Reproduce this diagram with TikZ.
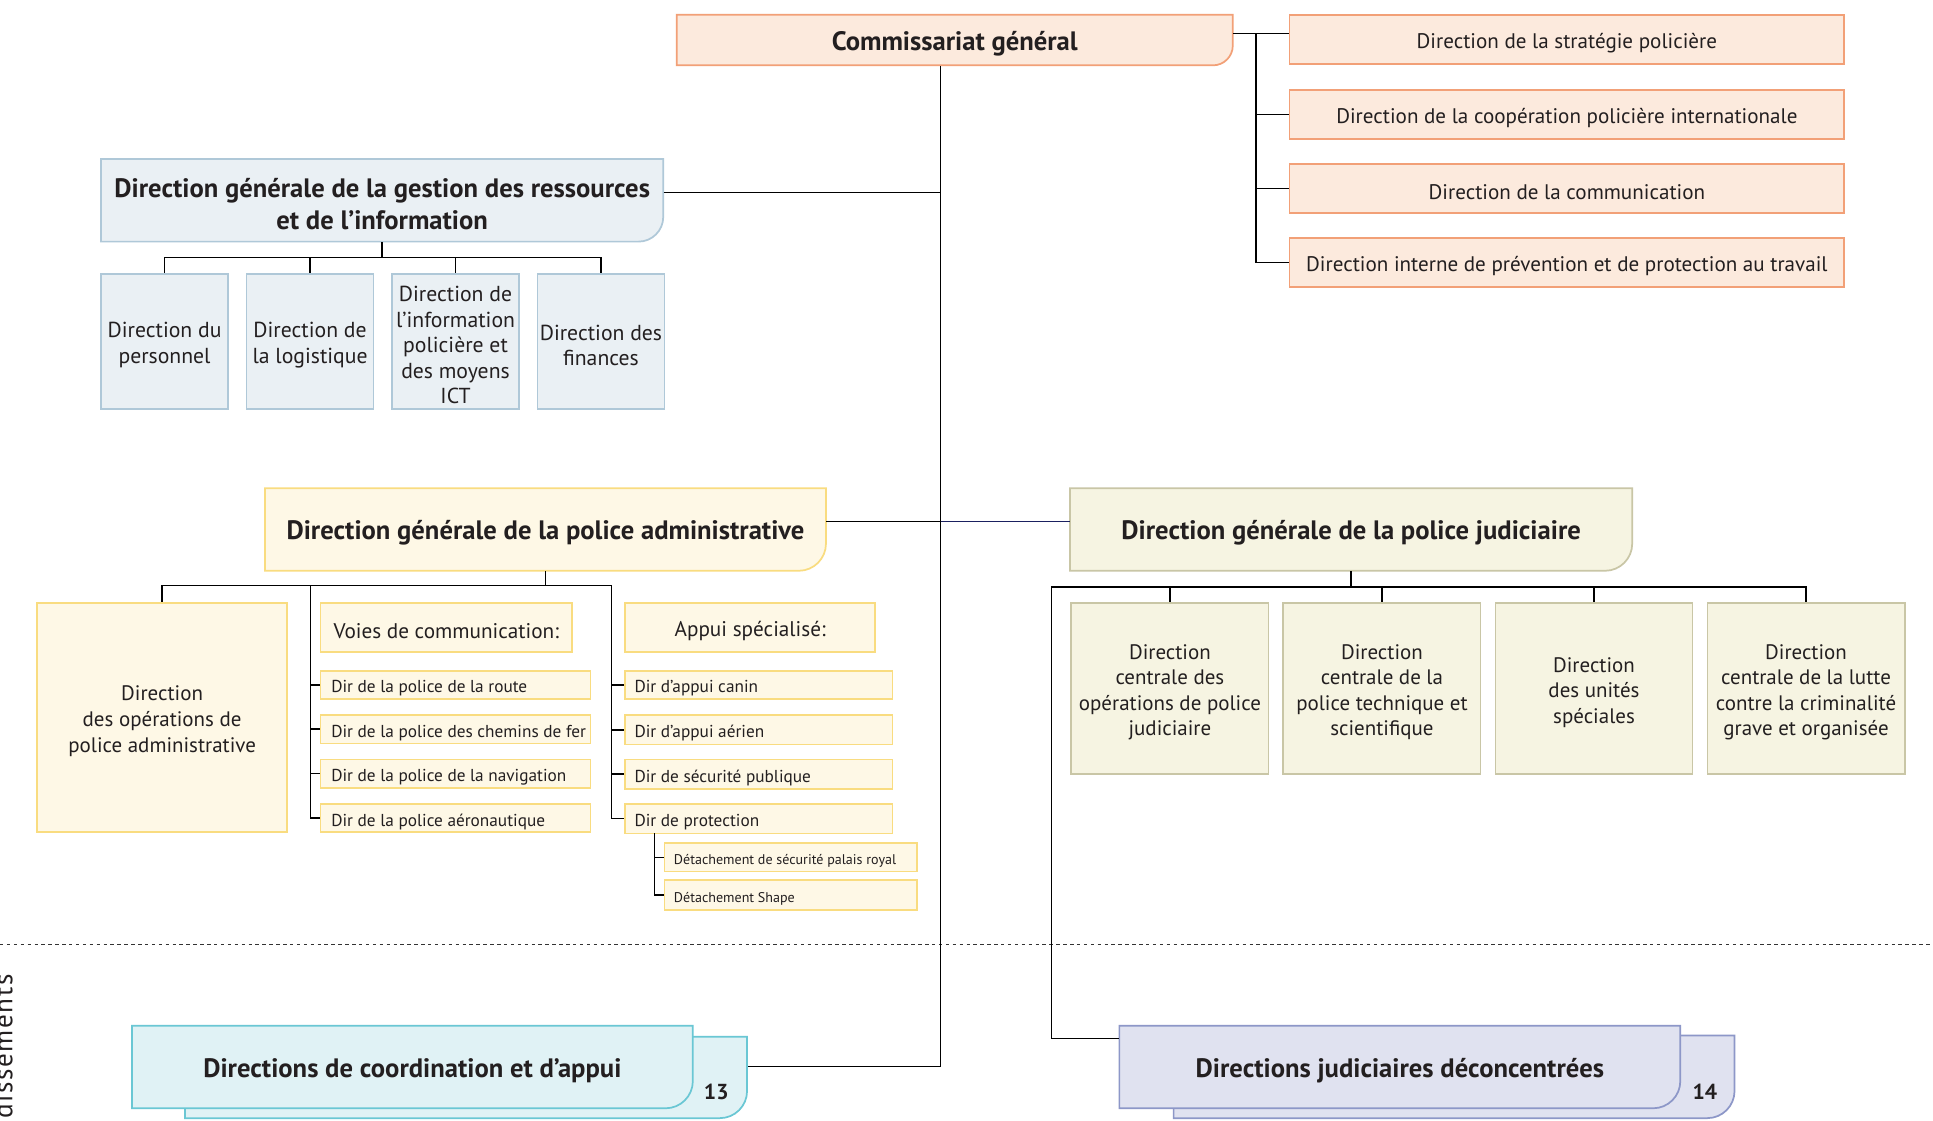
\documentclass[tikz,border=0pt]{standalone}
\usepackage{fontspec}
\setmainfont{PT Sans}
\definecolor{txt}{HTML}{231F20}
\definecolor{peachF}{HTML}{FCEADD}
\definecolor{peachD}{HTML}{F2A077}
\definecolor{blueF}{HTML}{EAF0F4}
\definecolor{blueD}{HTML}{AFC8D8}
\definecolor{yelF}{HTML}{FEF8E6}
\definecolor{yelD}{HTML}{F9DC80}
\definecolor{begF}{HTML}{F6F4E2}
\definecolor{begD}{HTML}{C9C6A6}
\definecolor{cyanF}{HTML}{E0F2F5}
\definecolor{cyanD}{HTML}{6AC7D4}
\definecolor{lavF}{HTML}{E0E2F0}
\definecolor{lavD}{HTML}{8D97C8}
\definecolor{navy}{HTML}{1A2060}
\tikzset{
  conn/.style={line width=0.6pt, draw=black},
  peach/.style={fill=peachF, draw=peachD, line width=0.7pt},
  bluebox/.style={fill=blueF, draw=blueD, line width=0.7pt},
  yel/.style={fill=yelF, draw=yelD, line width=0.7pt},
  beige/.style={fill=begF, draw=begD, line width=0.7pt},
  cyanbox/.style={fill=cyanF, draw=cyanD, line width=0.7pt},
  lavbox/.style={fill=lavF, draw=lavD, line width=0.7pt},
  hd/.style={font=\fontsize{10.8}{12.8}\selectfont\bfseries, text=txt, align=center},
  rt/.style={font=\fontsize{8.55}{10}\selectfont, text=txt, align=center},
  chg/.style={font=\fontsize{8.8}{10.3}\selectfont, text=txt, align=center},
  ch/.style={font=\fontsize{8.5}{10.35}\selectfont, text=txt, align=center},
  vh/.style={font=\fontsize{8.6}{10}\selectfont, text=txt, align=center},
  itm/.style={font=\fontsize{7}{8.4}\selectfont, text=txt},
  sbt/.style={font=\fontsize{5.7}{6.8}\selectfont, text=txt},
  nm/.style={font=\fontsize{8.8}{10}\selectfont\bfseries, text=txt},
  sepline/.style={line width=0.45pt, draw=black!80, dash pattern=on 1.4pt off 1.4pt},
}
% rounded bottom-right box: name, boxstyle, x1,y1,x2,y2, r, textstyle, text
\newcommand\rcbox[9]{%
  \path[#2] (#3,#4) -- (#5,#4) -- (#5,{#6-#7}) .. controls (#5,{#6-0.45*#7}) and ({#5-0.45*#7},#6) .. ({#5-#7},#6) -- (#3,#6) -- cycle;
  \node[inner sep=0pt, minimum width={(#5-#3)*0.5pt}, minimum height={(#6-#4)*0.5pt}] (#1) at ({(#3+#5)/2},{(#4+#6)/2}) {};
  \node[#8, inner sep=0pt] at ([yshift=-1.5pt]#1.center) {#9};}
% plain box: name, boxstyle, textstyle, x1,y1,x2,y2, text
\newcommand\bx[8]{%
  \node[#2, inner sep=0pt, minimum width={(#6-#4)*0.5pt}, minimum height={(#7-#5)*0.5pt}] (#1) at ({(#4+#6)/2},{(#5+#7)/2}) {};
  \node[#3, inner sep=0pt] at ([yshift=-1.5pt]#1.center) {#8};}
% left aligned item: name, boxstyle, textstyle, x1,y1,x2,y2, pad, text
\newcommand\lbx[9]{%
  \node[#2, inner sep=0pt, minimum width={(#6-#4)*0.5pt}, minimum height={(#7-#5)*0.5pt}] (#1) at ({(#4+#6)/2},{(#5+#7)/2}) {};
  \node[#3, anchor=west, inner sep=0pt] at ([xshift=#8pt, yshift=-1.5pt]#1.west) {#9};}
\begin{document}
\begin{tikzpicture}[x=0.5pt, y=-0.5pt]
\useasboundingbox (0,0) rectangle (1568,909);
\fill[white] (0,0) rectangle (1568,909);

% ---------- top: Commissariat général ----------
\rcbox{cg}{peach}{549}{12}{1000}{53}{16}{hd}{Commissariat général}
\bx{r1}{peach}{rt}{1046}{12}{1496}{52}{Direction de la stratégie policière}
\bx{r2}{peach}{rt}{1046}{73}{1496}{113}{Direction de la coopération policière internationale}
\bx{r3}{peach}{rt}{1046}{133}{1496}{173}{Direction de la communication}
\bx{r4}{peach}{rt}{1046}{193}{1496}{233}{Direction interne de prévention et de protection au travail}

% ---------- DGR ----------
\rcbox{dggri}{bluebox}{82}{129}{538}{196}{20}{hd}{Direction générale de la gestion des ressources\\et de l’information}
\bx{g1}{bluebox}{chg}{82}{222}{185}{332}{Direction du\\personnel}
\bx{g2}{bluebox}{chg}{200}{222}{303}{332}{Direction de\\la logistique}
\bx{g3}{bluebox}{chg}{318}{222}{421}{332}{Direction de\\l’information\\policière et\\des moyens\\ICT}
\bx{g4}{bluebox}{chg}{436}{222}{539}{332}{Direction des\\finances}

% ---------- DGA ----------
\rcbox{dgpa}{yel}{215}{396}{670}{463}{22}{hd}{Direction générale de la police administrative}
\bx{ops}{yel}{ch}{30}{489}{233}{675}{Direction\\des opérations de\\police administrative}
\bx{voies}{yel}{vh}{260}{489}{464}{529}{Voies de communication:}
\bx{appui}{yel}{vh}{507}{489}{710}{529}{Appui spécialisé:}
\lbx{v1}{yel}{itm}{260}{544}{479}{567}{4.5}{Dir de la police de la route}
\lbx{v2}{yel}{itm}{260}{580}{479}{603}{4.5}{Dir de la police des chemins de fer}
\lbx{v3}{yel}{itm}{260}{616}{479}{639}{4.5}{Dir de la police de la navigation}
\lbx{v4}{yel}{itm}{260}{652}{479}{675}{4.5}{Dir de la police aéronautique}
\lbx{a1}{yel}{itm}{507}{544}{724}{567}{4}{Dir d’appui canin}
\lbx{a2}{yel}{itm}{507}{580}{724}{604}{4}{Dir d’appui aérien}
\lbx{a3}{yel}{itm}{507}{616}{724}{640}{4}{Dir de sécurité publique}
\lbx{a4}{yel}{itm}{507}{652}{724}{676}{4}{Dir de protection}
\lbx{s1}{yel}{sbt}{539}{684}{744}{707}{4}{Détachement de sécurité palais royal}
\lbx{s2}{yel}{sbt}{539}{714}{744}{738}{4}{Détachement Shape}

% ---------- DGJ ----------
\rcbox{dgpj}{beige}{868}{396}{1324}{463}{22}{hd}{Direction générale de la police judiciaire}
\bx{j1}{beige}{ch}{869}{489}{1029}{628}{Direction\\centrale des\\opérations de police\\judiciaire}
\bx{j2}{beige}{ch}{1041}{489}{1201}{628}{Direction\\centrale de la\\police technique et\\scientifique}
\bx{j3}{beige}{ch}{1213}{489}{1373}{628}{Direction\\des unités\\spéciales}
\bx{j4}{beige}{ch}{1385}{489}{1545}{628}{Direction\\centrale de la lutte\\contre la criminalité\\grave et organisée}

% ---------- separator ----------
\draw[sepline] (0,766) -- (1568,766);
\node[rotate=90, anchor=base east, inner sep=0pt, text=txt,
      font=\fontsize{11}{13}\selectfont\addfontfeature{LetterSpace=6}] (arr) at (10,790) {Arrondissements};

% ---------- bottom stacked boxes ----------
\rcbox{coordb}{cyanbox}{150}{841}{606}{907}{22}{hd}{}
\rcbox{coordf}{cyanbox}{107}{832}{562}{899}{22}{hd}{Directions de coordination et d’appui}
\node[nm] (n13) at (581,886) {13};
\rcbox{djb}{lavbox}{952}{840}{1407}{907}{22}{hd}{}
\rcbox{djf}{lavbox}{908}{832}{1363}{899}{22}{hd}{Directions judiciaires déconcentrées}
\node[nm] (n14) at (1383,886) {14};

% ---------- connectors ----------
\coordinate (sp) at (763,865);
\draw[conn] (cg.south -| sp) -- (sp) -- (sp -| coordb.east);
\draw[conn] ([yshift=3.25pt]dggri.east) -- ([yshift=3.25pt]dggri.east -| sp);

\coordinate (rb) at (1019,27);
\draw[conn] (cg.east |- rb) -- (r1.west |- rb);
\draw[conn] (rb) |- (r4.west);
\draw[conn] (rb |- r2.west) -- (r2.west);
\draw[conn] (rb |- r3.west) -- (r3.west);

\coordinate (gb) at (310,209);
\draw[conn] (dggri.south) -- (dggri.south |- gb);
\draw[conn] (g1.north) -- (g1.north |- gb) -- (g4.north |- gb) -- (g4.north);
\draw[conn] (g2.north) -- (g2.north |- gb);
\draw[conn] (g3.north) -- (g3.north |- gb);

\draw[conn] ([yshift=3.25pt]dgpa.east) -- ([yshift=3.25pt]dgpa.east -| sp);
\draw[conn, draw=navy] ([yshift=3.25pt]dgpa.east -| sp) -- ([yshift=3.25pt]dgpj.west);

\coordinate (pb) at (442.5,475);
\coordinate (vx) at (252,475);
\coordinate (ax) at (496,475);
\draw[conn] (dgpa.south) -- (pb);
\draw[conn] (ops.north) -- (ops.north |- pb) -- (ax) |- (a4.west);
\draw[conn] (vx) |- (v4.west);
\foreach \n in {v1,v2,v3} \draw[conn] (\n.west -| vx) -- (\n.west);
\foreach \n in {a1,a2,a3} \draw[conn] (\n.west -| ax) -- (\n.west);
\coordinate (px) at (531,676);
\draw[conn] (px) |- (s2.west);
\draw[conn] (s1.west -| px) -- (s1.west);

\coordinate (jb) at (853,476);
\draw[conn] (dgpj.south) -- (dgpj.south |- jb);
\draw[conn] (j4.north) -- (j4.north |- jb) -- (jb) |- ([yshift=-5.5pt]djf.north west);
\foreach \n in {j1,j2,j3} \draw[conn] (\n.north) -- (\n.north |- jb);
\end{tikzpicture}
\end{document}
